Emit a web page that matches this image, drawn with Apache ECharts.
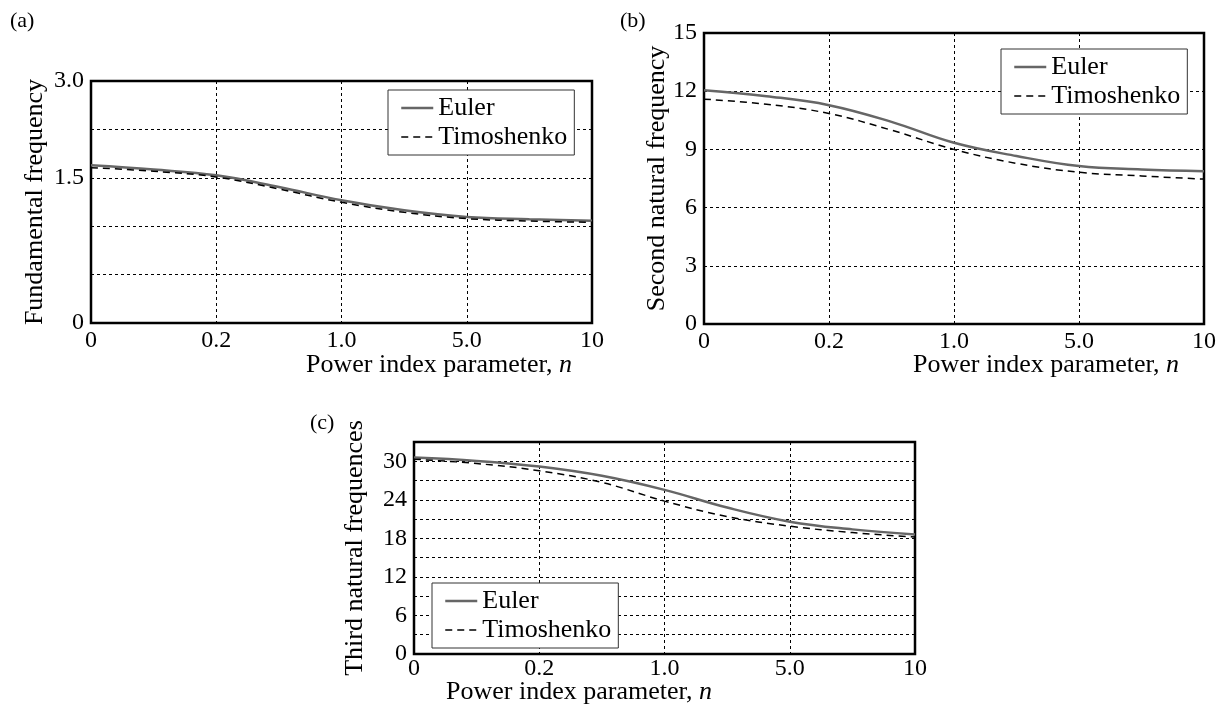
<!DOCTYPE html>
<html><head><meta charset="utf-8">
<script src="https://cdn.jsdelivr.net/npm/echarts@6/dist/echarts.min.js"></script>
<style>html,body{margin:0;padding:0;background:#fff}#c{width:1227px;height:710px}</style>
</head><body><div id="c"></div>
<script>
// x positions along the (non-linear) power-index axis, one unit per labelled tick
const xPos = [0, 0.5, 1, 1.5, 2, 2.5, 3, 3.5, 4];
const xTickLabels = ['0', '0.2', '1.0', '5.0', '10'];
const yTicksA = ['0', '', '', '1.5', '', '3.0'];
const yTicksB = ['0', '3', '6', '9', '12', '15'];
const yTicksC = ['0', '', '6', '', '12', '', '18', '', '24', '', '30', ''];
const seriesNames = ['Euler', 'Timoshenko'];
// (a) fundamental frequency
const eulerA = [1.955, 1.902, 1.831, 1.686, 1.521, 1.397, 1.314, 1.286, 1.269];
const timoA  = [1.926, 1.881, 1.810, 1.661, 1.496, 1.372, 1.294, 1.264, 1.248];
// (b) second natural frequency
const eulerB = [12.05, 11.74, 11.28, 10.42, 9.34, 8.66, 8.14, 7.97, 7.88];
const timoB  = [11.59, 11.33, 10.85, 9.99, 9.00, 8.28, 7.82, 7.63, 7.47];
// (c) third natural frequency
const eulerC = [30.57, 30.06, 29.18, 27.74, 25.55, 22.8, 20.6, 19.4, 18.6];
const timoC  = [30.32, 29.65, 28.52, 26.71, 23.8, 21.4, 19.9, 18.9, 18.2];

const FONT = "'Liberation Serif', 'Times New Roman', serif";
const FS = 24;   // tick labels
const TFS = 26;  // titles and legend
const pairs = arr => xPos.map((x, i) => [x, arr[i]]);

const grids = [
  {left: 91, top: 81, width: 501, height: 242},
  {left: 704, top: 33, width: 500, height: 291},
  {left: 414, top: 442, width: 501, height: 212}
];
const yCfg = [
  {max: 3.0, interval: 0.6, labels: yTicksA, name: 'Fundamental frequency', gap: 43},
  {max: 15, interval: 3, labels: yTicksB, name: 'Second natural frequency', gap: 34},
  {max: 33, interval: 3, labels: yTicksC, name: 'Third natural frequences', gap: 46}
];
const xMargin = [6, 6, 3];
const splitStyle = {show: true, lineStyle: {color: '#000', width: 1, type: [3, 3]}};
const titleRich = {r: {font: TFS + 'px ' + FONT, fill: '#000'}, i: {font: 'italic ' + TFS + 'px ' + FONT, fill: '#000'}};

const option = {
  backgroundColor: '#fff',
  animation: false,
  textStyle: {fontFamily: FONT},
  grid: grids.map(g => Object.assign({show: true, borderColor: '#000', borderWidth: 2.5, containLabel: false}, g)),
  xAxis: grids.map((g, i) => ({
    type: 'value', gridIndex: i, min: 0, max: 4, interval: 1,
    axisLine: {show: false}, axisTick: {show: false},
    splitLine: splitStyle,
    axisLabel: {fontFamily: FONT, fontSize: FS, color: '#000', margin: xMargin[i],
      formatter: v => xTickLabels[Math.round(v)]}
  })),
  yAxis: yCfg.map((c, i) => ({
    type: 'value', gridIndex: i, min: 0, max: c.max, interval: c.interval,
    axisLine: {show: false}, axisTick: {show: false},
    splitLine: splitStyle,
    axisLabel: {fontFamily: FONT, fontSize: FS, color: '#000', margin: 7,
      formatter: v => c.labels[Math.round(v / c.interval)]},
    name: c.name, nameLocation: 'middle', nameGap: c.gap, nameRotate: 90,
    nameMoveOverlap: false,
    nameTextStyle: {fontFamily: FONT, fontSize: TFS, color: '#000'}
  })),
  legend: [
    {left: 388, top: 90},
    {left: 1001, top: 49},
    {left: 432, top: 583}
  ].map(p => Object.assign({
    data: [
      {name: seriesNames[0], lineStyle: {width: 2.5}},
      {name: seriesNames[1], lineStyle: {width: 1.5}}
    ],
    orient: 'vertical', itemGap: 3, itemWidth: 32, itemHeight: 14,
    itemStyle: {color: 'rgba(0,0,0,0)', borderColor: 'rgba(0,0,0,0)', borderWidth: 0},
    padding: [5, 7, 5, 12], borderColor: '#333', borderWidth: 1, borderRadius: 0,
    backgroundColor: '#fff', selectedMode: false,
    textStyle: {fontFamily: FONT, fontSize: TFS, color: '#000'}
  }, p)),
  series: [],
  graphic: [
    {type: 'text', left: 10, top: 10, style: {text: '(a)', font: '22px ' + FONT, fill: '#000'}},
    {type: 'text', left: 620, top: 10, style: {text: '(b)', font: '22px ' + FONT, fill: '#000'}},
    {type: 'text', left: 310, top: 412, style: {text: '(c)', font: '22px ' + FONT, fill: '#000'}},
    {type: 'text', left: 306, top: 352, style: {rich: titleRich, text: '{r|Power index parameter, }{i|n}'}},
    {type: 'text', left: 913, top: 352, style: {rich: titleRich, text: '{r|Power index parameter, }{i|n}'}},
    {type: 'text', left: 446, top: 679, style: {rich: titleRich, text: '{r|Power index parameter, }{i|n}'}}
  ]
};

const data = [[eulerA, timoA], [eulerB, timoB], [eulerC, timoC]];
data.forEach((d, i) => {
  option.series.push({
    name: 'Euler', type: 'line', xAxisIndex: i, yAxisIndex: i, data: pairs(d[0]),
    smooth: 0.4, symbol: 'none', lineStyle: {color: '#666', width: 2.5, type: 'solid'}, itemStyle: {color: '#666'}, z: 3
  });
  option.series.push({
    name: 'Timoshenko', type: 'line', xAxisIndex: i, yAxisIndex: i, data: pairs(d[1]),
    smooth: 0.4, symbol: 'none', lineStyle: {color: '#000', width: 1.5, type: [7, 5]}, itemStyle: {color: '#000'}, z: 4
  });
});

const chart = echarts.init(document.getElementById('c'), null, {renderer: 'canvas'});
chart.setOption(option);
</script>
</body></html>
